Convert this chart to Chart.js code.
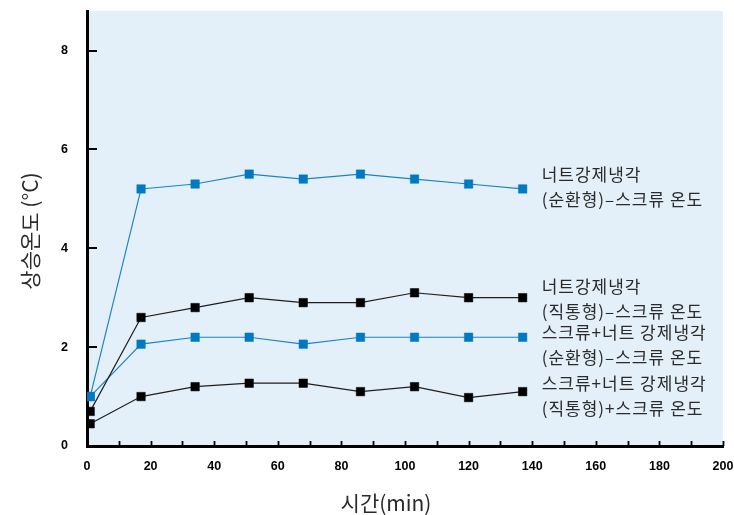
<!DOCTYPE html>
<html>
<head>
<meta charset="utf-8">
<script src="https://cdn.jsdelivr.net/npm/chart.js@4"></script>
<style>
  html, body { margin: 0; padding: 0; background: #ffffff; }
  #wrap { width: 734px; height: 515px; }
</style>
</head>
<body>
<div id="wrap"><canvas id="chart" width="734" height="515"></canvas></div>
<script>
// Elapsed time (min)
const times = [1, 17, 34, 51, 68, 86, 103, 120, 137];

// Screw temperature rise (°C) for each cooling setup
const nutCirculating   = [1.0, 5.2, 5.3, 5.5, 5.4, 5.5, 5.4, 5.3, 5.2];
const nutDirect        = [0.7, 2.6, 2.8, 3.0, 2.9, 2.9, 3.1, 3.0, 3.0];
const screwNutCirc     = [1.0, 2.06, 2.2, 2.2, 2.06, 2.2, 2.2, 2.2, 2.2];
const screwNutDirect   = [0.45, 1.0, 1.2, 1.27, 1.27, 1.1, 1.2, 0.98, 1.1];

// Series names (two lines each)
const seriesNames = [
  ['너트강제냉각', '(순환형)–스크류 온도'],
  ['너트강제냉각', '(직통형)–스크류 온도'],
  ['스크류+너트 강제냉각', '(순환형)–스크류 온도'],
  ['스크류+너트 강제냉각', '(직통형)+스크류 온도']
];

// Axis tick values
const xTickStep = 10;
const xLabelStep = 20;
const yTickStep = 2;

const BLUE = '#0079c2';
const BLACK = '#000000';

function toPoints(values) {
  return values.map((v, i) => ({ x: times[i], y: v }));
}

function makeSeries(values, name, color, lineColor, shift) {
  return {
    label: name.join(' '),
    endLabel: name,
    endLabelShift: shift,
    data: toPoints(values),
    borderColor: lineColor,
    backgroundColor: color,
    borderWidth: 1.2,
    pointStyle: 'rect',
    pointRadius: 6,
    pointBorderWidth: 0.5,
    pointBorderColor: color,
    pointBackgroundColor: color,
    tension: 0,
    fill: false
  };
}

const datasets = [
  makeSeries(screwNutDirect, seriesNames[3], BLACK, '#1e1e1e', 4),
  makeSeries(nutDirect, seriesNames[1], BLACK, '#1e1e1e', 1),
  makeSeries(screwNutCirc, seriesNames[2], BLUE, '#1a84c8', 8),
  makeSeries(nutCirculating, seriesNames[0], BLUE, '#1a84c8', -2)
];

const FONT_KR = '"Noto Sans CJK KR", "Noto Sans", sans-serif';
const FONT_TICK = { family: 'Arial, "Liberation Sans", sans-serif', weight: 'bold', size: 12.5 };

// Light blue plotting field
const plotBackground = {
  id: 'plotBackground',
  beforeDraw(chart) {
    const { ctx, chartArea: a } = chart;
    ctx.save();
    ctx.fillStyle = '#e4f0f9';
    ctx.fillRect(a.left, a.top, a.right - a.left, a.bottom - a.top);
    ctx.restore();
  }
};

// Inward-pointing tick marks on both axes
const innerTicks = {
  id: 'innerTicks',
  afterDraw(chart) {
    const { ctx, chartArea: a, scales } = chart;
    ctx.save();
    ctx.strokeStyle = '#000';
    ctx.lineWidth = 1.8;
    scales.x.ticks.forEach(t => {
      const px = Math.round(scales.x.getPixelForValue(t.value)) + 0.5;
      ctx.beginPath();
      ctx.moveTo(px, a.bottom);
      ctx.lineTo(px, a.bottom - 5);
      ctx.stroke();
    });
    ctx.lineWidth = 2;
    scales.y.ticks.forEach(t => {
      const py = Math.round(scales.y.getPixelForValue(t.value));
      ctx.beginPath();
      ctx.moveTo(a.left, py);
      ctx.lineTo(a.left + 10, py);
      ctx.stroke();
    });
    ctx.restore();
  }
};

// Names written beside the end of each series
const endLabels = {
  id: 'endLabels',
  afterDatasetsDraw(chart) {
    const { ctx, scales } = chart;
    ctx.save();
    ctx.font = '17px ' + FONT_KR;
    if ('letterSpacing' in ctx) ctx.letterSpacing = '1px';
    ctx.fillStyle = '#2a2a2a';
    ctx.textAlign = 'left';
    ctx.textBaseline = 'middle';
    chart.data.datasets.forEach(ds => {
      const last = ds.data[ds.data.length - 1];
      const x = scales.x.getPixelForValue(last.x) + 19;
      const y = scales.y.getPixelForValue(last.y) + ds.endLabelShift;
      ctx.fillText(ds.endLabel[0], x, y - 12.5);
      ctx.fillText(ds.endLabel[1], x, y + 12.5);
    });
    ctx.restore();
  }
};

// Axis titles
const axisTitles = {
  id: 'axisTitles',
  afterDraw(chart) {
    const { ctx } = chart;
    ctx.save();
    ctx.fillStyle = '#2a2a2a';
    ctx.font = '21px ' + FONT_KR;
    ctx.textAlign = 'center';
    ctx.textBaseline = 'middle';
    ctx.fillText('시간(min)', 386, 503);
    ctx.translate(30, 231);
    ctx.rotate(-Math.PI / 2);
    ctx.fillText('상승온도 (°C)', 0, 0);
    ctx.restore();
  }
};

new Chart(document.getElementById('chart'), {
  type: 'line',
  data: { datasets },
  plugins: [plotBackground, innerTicks, endLabels, axisTitles],
  options: {
    responsive: false,
    animation: false,
    layout: { padding: { top: 11, right: 11, left: 0, bottom: 0 } },
    plugins: {
      legend: { display: false },
      tooltip: { enabled: false }
    },
    scales: {
      x: {
        type: 'linear',
        min: 0,
        max: 200,
        grid: { display: false },
        border: { display: true, color: '#000', width: 3 },
        ticks: {
          stepSize: xTickStep,
          autoSkip: false,
          maxRotation: 0,
          padding: 5,
          color: '#000',
          font: FONT_TICK,
          callback: v => (v % xLabelStep === 0 ? String(v) : '')
        },
        afterFit: s => {
          s.height = 69;
          s.paddingLeft = 0; s.paddingRight = 0;
          s.paddingTop = 0; s.paddingBottom = 0;
        }
      },
      y: {
        type: 'linear',
        min: 0,
        max: 8.8,
        grid: { display: false },
        border: { display: true, color: '#000', width: 3 },
        ticks: {
          stepSize: yTickStep,
          includeBounds: false,
          padding: 11,
          color: '#000',
          font: FONT_TICK,
          callback: v => String(v)
        },
        afterFit: s => {
          s.width = 87;
          s.paddingLeft = 0; s.paddingRight = 0;
          s.paddingTop = 0; s.paddingBottom = 0;
        }
      }
    }
  }
});
</script>
</body>
</html>
